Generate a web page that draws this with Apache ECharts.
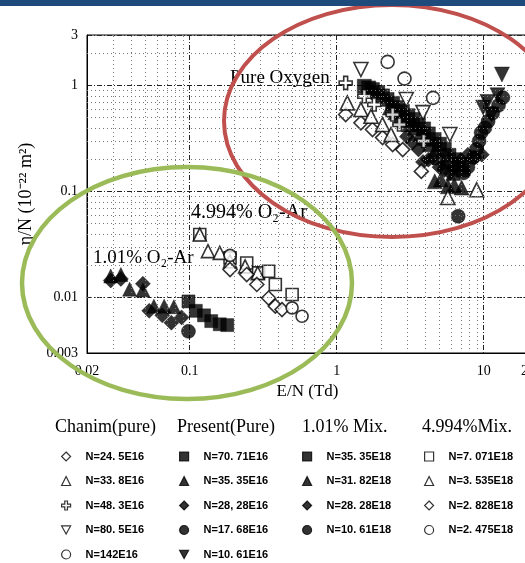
<!DOCTYPE html>
<html>
<head>
<meta charset="utf-8">
<script src="https://cdn.jsdelivr.net/npm/echarts@6/dist/echarts.min.js"></script>
<style>
html, body { margin: 0; padding: 0; background: #fff; }
#main { width: 525px; height: 563px; }
</style>
</head>
<body>
<div id="main"></div>
<script>
// E/N (Td) vs eta/N (1e-22 m2)

// Chanin (pure), open markers
const chaninDiamond = [[1.15, 0.533], [1.46, 0.445], [1.75, 0.385], [2.05, 0.323], [2.40, 0.278], [2.81, 0.249], [3.76, 0.155]];
const chaninTri = [[1.18, 0.687], [1.46, 0.594], [1.71, 0.513], [2.05, 0.429], [2.34, 0.345], [5.7, 0.088], [8.95, 0.104]];
const chaninPlus = [[1.15, 1.06], [1.54, 0.793], [1.80, 0.662], [2.40, 0.533], [2.67, 0.429], [3.9, 0.30]];
const chaninTriDown = [[1.46, 1.416], [2.97, 0.738], [3.86, 0.556], [5.88, 0.345]];
const chaninCircle = [[2.22, 1.673], [2.89, 1.164], [4.52, 0.766]];

// Present (pure), filled markers
const presentSquare = [[1.54, 0.985], [1.65, 0.95], [1.75, 0.917], [1.9, 0.86], [2.05, 0.80], [2.2, 0.74], [2.4, 0.68], [2.6, 0.62], [2.8, 0.57], [3.05, 0.52], [3.3, 0.48], [3.6, 0.43], [3.9, 0.39], [4.2, 0.35], [4.6, 0.31], [5.0, 0.28], [5.4, 0.25], [5.8, 0.22], [6.3, 0.20], [6.8, 0.18], [7.2, 0.16]];
const presentTri = [[2.3, 0.62], [2.5, 0.56], [2.7, 0.50], [2.9, 0.47], [3.1, 0.43], [3.4, 0.40], [3.7, 0.35], [4.0, 0.32], [4.3, 0.28], [4.7, 0.25], [5.0, 0.21], [5.4, 0.19], [4.64, 0.125], [5.1, 0.13], [5.7, 0.112], [6.3, 0.115], [7.07, 0.109], [6.2, 0.15]];
const presentDiamond = [[3.0, 0.33], [3.28, 0.29], [3.6, 0.25], [3.86, 0.19], [4.2, 0.2], [4.5, 0.21], [5.0, 0.17], [5.4, 0.16], [5.9, 0.15], [6.3, 0.17], [7.0, 0.2], [7.8, 0.223], [8.7, 0.21], [9.7, 0.223]];
const presentCircle = [[6.7, 0.0585], [7.3, 0.15], [7.8, 0.17], [8.5, 0.21], [8.9, 0.25], [9.3, 0.3], [9.6, 0.36], [10.2, 0.4], [10.7, 0.46], [11.5, 0.55], [12.6, 0.65], [13.5, 0.77]];
const presentTriDown = [[9.9, 0.62], [10.6, 0.7], [11.3, 0.53], [12.4, 0.81], [13.3, 1.27]];

// 1.01% O2-Ar mix, filled markers
const mix1Square = [[0.098, 0.0092], [0.11, 0.0075], [0.125, 0.0068], [0.14, 0.0060], [0.16, 0.0056], [0.18, 0.0055]];
const mix1Tri = [[0.029, 0.016], [0.034, 0.0165], [0.039, 0.0120], [0.048, 0.0118], [0.057, 0.0083], [0.067, 0.0083], [0.078, 0.0082]];
const mix1Diamond = [[0.029, 0.0145], [0.034, 0.015], [0.048, 0.0135], [0.053, 0.0075], [0.065, 0.0068], [0.075, 0.0058], [0.088, 0.0065]];
const mix1Circle = [[0.098, 0.0048]];

// 4.994% O2-Ar mix, open markers
const mix5Square = [[0.117, 0.0393], [0.188, 0.0237], [0.244, 0.0212], [0.294, 0.0171], [0.344, 0.0177], [0.382, 0.0133], [0.497, 0.0107]];
const mix5Tri = [[0.117, 0.0393], [0.133, 0.0274], [0.160, 0.0264], [0.188, 0.022], [0.238, 0.0197], [0.29, 0.017]];
const mix5Diamond = [[0.188, 0.0184], [0.244, 0.0165], [0.286, 0.0133], [0.344, 0.0099], [0.382, 0.0083], [0.424, 0.0077]];
const mix5Circle = [[0.188, 0.025], [0.497, 0.0080], [0.581, 0.00667]];

// axis ticks and minor grid
const xTickLabels = { '0.02': '0.02', '0.1': '0.1', '1': '1', '10': '10', '20': '20' };
const yTickLabels = { '0.003': '0.003', '0.01': '0.01', '0.1': '0.1', '1': '1', '3': '3' };
const minorX = [0.03, 0.04, 0.05, 0.06, 0.07, 0.08, 0.09, 0.2, 0.3, 0.4, 0.5, 0.6, 0.7, 0.8, 0.9, 2, 3, 4, 5, 6, 7, 8, 9];
const minorY = [0.004, 0.005, 0.006, 0.007, 0.008, 0.009, 0.02, 0.03, 0.04, 0.05, 0.06, 0.07, 0.08, 0.09, 0.2, 0.3, 0.4, 0.5, 0.6, 0.7, 0.8, 0.9, 2];

const SYM = {
    square: 'rect',
    tri: 'triangle',
    triDown: 'path://M0,0L10,0L5,9Z',
    diamond: 'diamond',
    circle: 'circle',
    plus: 'path://M3.5,0H6.5V3.5H10V6.5H6.5V10H3.5V6.5H0V3.5H3.5Z'
};

function pts(name, data, symbol, filled, size) {
    return {
        name: name,
        type: 'scatter',
        data: data,
        symbol: symbol,
        symbolSize: size,
        itemStyle: filled
            ? { color: '#000', borderColor: '#000', borderWidth: 0.5 }
            : { color: '#fff', borderColor: '#000', borderWidth: 1.6 },
        emphasis: { disabled: true }
    };
}

const series = [
    pts('N=70. 71E16', presentSquare, SYM.square, true, 14),
    pts('N=35. 35E16', presentTri, SYM.tri, true, 15),
    pts('N=28, 28E16', presentDiamond, SYM.diamond, true, 15),
    pts('N=17. 68E16', presentCircle, SYM.circle, true, 14),
    pts('N=10. 61E16', presentTriDown, SYM.triDown, true, 15),
    pts('N=24. 5E16', chaninDiamond, SYM.diamond, false, 14),
    pts('N=33. 8E16', chaninTri, SYM.tri, false, 14),
    pts('N=48. 3E16', chaninPlus, SYM.plus, false, 13),
    pts('N=80. 5E16', chaninTriDown, SYM.triDown, false, 14),
    pts('N=142E16', chaninCircle, SYM.circle, false, 13),
    pts('N=7. 071E18', mix5Square, SYM.square, false, 12),
    pts('N=3. 535E18', mix5Tri, SYM.tri, false, 13),
    pts('N=2. 828E18', mix5Diamond, SYM.diamond, false, 14),
    pts('N=2. 475E18', mix5Circle, SYM.circle, false, 12),
    pts('N=35. 35E18', mix1Square, SYM.square, true, 13),
    pts('N=31. 82E18', mix1Tri, SYM.tri, true, 14),
    pts('N=28. 28E18', mix1Diamond, SYM.diamond, true, 15),
    pts('N=10. 61E18', mix1Circle, SYM.circle, true, 14)
];

// minor (dotted) grid through the axes' own scales
series.unshift({
    type: 'scatter',
    data: [],
    silent: true,
    markLine: {
        silent: true,
        symbol: 'none',
        label: { show: false },
        animation: false,
        lineStyle: { color: '#777', type: [1, 3], width: 1 },
        data: minorX.map(v => ({ xAxis: v })).concat(minorY.map(v => ({ yAxis: v })))
    }
});

const legendText = { fontFamily: 'Liberation Sans', fontWeight: 'bold', fontSize: 11, color: '#000', padding: [0, 0, 0, 10] };
function legendCol(names, left) {
    return {
        data: names, left: left, top: 451, orient: 'vertical', padding: 0,
        itemWidth: 9, itemHeight: 9, itemGap: 13.5,
        selectedMode: false, textStyle: legendText,
        itemStyle: { borderWidth: 1.2 }
    };
}

const serif = 'Liberation Serif, Times New Roman, serif';

const option = {
    animation: false,
    backgroundColor: '#fff',
    grid: {
        left: 87, top: 35, width: 441, height: 318, outerBoundsMode: 'none', containLabel: false,
        show: true, borderColor: '#000', borderWidth: 1, backgroundColor: 'transparent'
    },
    xAxis: {
        type: 'log', min: 0.02, max: 20, logBase: 10,
        name: 'E/N (Td)', nameLocation: 'middle', nameGap: 27,
        nameTextStyle: { fontFamily: serif, fontSize: 17, color: '#000' },
        axisLine: { lineStyle: { color: '#000' } },
        axisTick: { show: false },
        axisLabel: { fontFamily: serif, fontSize: 14, color: '#000', margin: 11, formatter: v => xTickLabels[String(+v.toPrecision(3))] || '' },
        splitLine: { show: true, lineStyle: { color: '#222', type: [5, 2, 1, 2], width: 1 } }
    },
    yAxis: {
        type: 'log', min: 0.003, max: 3, logBase: 10,
        name: 'η/N (10⁻²² m²)', nameLocation: 'middle', nameGap: 44,
        nameTextStyle: { fontFamily: serif, fontSize: 18, color: '#000' },
        axisLine: { lineStyle: { color: '#000' } },
        axisTick: { show: false },
        axisLabel: { fontFamily: serif, fontSize: 14, color: '#000', margin: 9, formatter: v => yTickLabels[String(+v.toPrecision(3))] || '' },
        splitLine: { show: true, lineStyle: { color: '#222', type: [5, 2, 1, 2], width: 1 } }
    },
    legend: [
        legendCol(['N=24. 5E16', 'N=33. 8E16', 'N=48. 3E16', 'N=80. 5E16', 'N=142E16'], 61),
        legendCol(['N=70. 71E16', 'N=35. 35E16', 'N=28, 28E16', 'N=17. 68E16', 'N=10. 61E16'], 179),
        legendCol(['N=35. 35E18', 'N=31. 82E18', 'N=28. 28E18', 'N=10. 61E18'], 302),
        legendCol(['N=7. 071E18', 'N=3. 535E18', 'N=2. 828E18', 'N=2. 475E18'], 424)
    ],
    graphic: [
        { type: 'rect', left: 0, top: 0, shape: { width: 525, height: 6 }, style: { fill: '#1f4a7c' }, z: 100 },
        { type: 'text', left: 230, top: 69, style: { text: 'Pure Oxygen', font: '19px ' + serif, fill: '#000' }, z: 50 },
        { type: 'text', left: 191, top: 203, style: { text: '4.994% O₂-Ar', font: '20px ' + serif, fill: '#000' }, z: 50 },
        { type: 'text', left: 93, top: 249, style: { text: '1.01% O₂-Ar', font: '19px ' + serif, fill: '#000' }, z: 50 },
        { type: 'ellipse', shape: { cx: 392, cy: 121, rx: 168, ry: 116 }, style: { fill: 'none', stroke: '#c0504d', lineWidth: 4 }, z: 60 },
        { type: 'ellipse', shape: { cx: 187, cy: 283, rx: 165, ry: 116 }, style: { fill: 'none', stroke: '#9bbb59', lineWidth: 4.5 }, z: 60 },
        { type: 'text', left: 55, top: 418, style: { text: 'Chanim(pure)', font: '18px ' + serif, fill: '#000' } },
        { type: 'text', left: 177, top: 418, style: { text: 'Present(Pure)', font: '18px ' + serif, fill: '#000' } },
        { type: 'text', left: 302, top: 418, style: { text: '1.01% Mix.', font: '18px ' + serif, fill: '#000' } },
        { type: 'text', left: 422, top: 418, style: { text: '4.994%Mix.', font: '18px ' + serif, fill: '#000' } }
    ],
    series: series
};

const plot = echarts.init(document.querySelector('#main'));
plot.setOption(option);
</script>
</body>
</html>
